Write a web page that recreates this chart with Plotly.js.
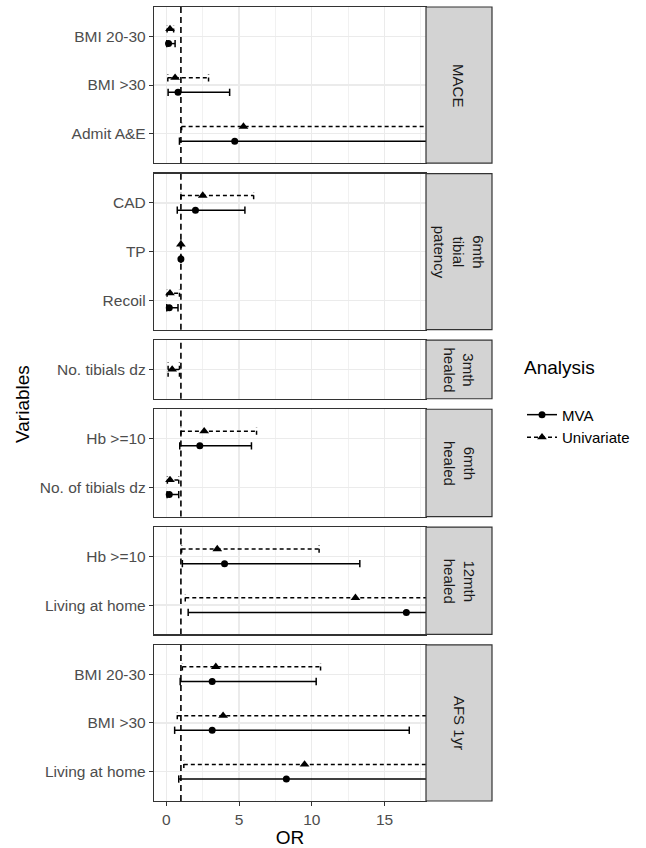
<!DOCTYPE html>
<html><head><meta charset="utf-8">
<script src="https://cdn.plot.ly/plotly-3.0.1.min.js"></script>
<style>html,body{margin:0;padding:0;background:#fff}#chart{width:646px;height:848px}</style>
</head><body><div id="chart"></div>
<script>
// ---- data ----
const facetLabels = ['MACE', '6mth<br>tibial<br>patency', '3mth<br>healed', '6mth<br>healed', '12mth<br>healed', 'AFS 1yr'];
const rowFacet = [0, 0, 0, 1, 1, 1, 2, 3, 3, 4, 4, 5, 5, 5];
const rowVariable = ['BMI 20-30', 'BMI >30', 'Admit A&E', 'CAD', 'TP', 'Recoil', 'No. tibials dz',
  'Hb >=10', 'No. of tibials dz', 'Hb >=10', 'Living at home', 'BMI 20-30', 'BMI >30', 'Living at home'];
const mvaOR    = [0.15, 0.8, 4.7, 2.0, 1.0, 0.2, null, 2.3, 0.2, 4.0, 16.5, 3.15, 3.15, 8.25];
const mvaLower = [0.03, 0.12, 0.9, 0.75, 0.97, 0.03, null, 0.92, 0.05, 1.1, 1.5, 0.95, 0.57, 0.85];
const mvaUpper = [0.6, 4.35, 24, 5.4, 1.03, 0.8, null, 5.85, 0.85, 13.3, 190, 10.3, 16.7, 70];
const uniOR    = [0.25, 0.6, 5.3, 2.5, 1.0, 0.25, 0.4, 2.6, 0.25, 3.5, 13.0, 3.4, 3.9, 9.5];
const uniLower = [0.05, 0.1, 1.05, 1.0, 0.97, 0.05, 0.12, 1.0, 0.07, 1.05, 1.3, 1.1, 0.75, 1.2];
const uniUpper = [0.5, 2.9, 26, 6.0, 1.03, 0.9, 0.9, 6.2, 0.85, 10.5, 125, 10.6, 20.5, 75];
const analysisNames = ['MVA', 'Univariate'];
const refOR = 1;

// ---- styles ----
const FONT = 'Liberation Sans, Arial, sans-serif';
const W = 646, H = 848, ML = 154, MR = 220, MT = 7, MB = 47;
const plotW = W - ML - MR, plotH = H - MT - MB;
const GAP = 10.5;
const XRANGE = [-0.85, 17.85];
const seriesStyle = [
  {or: mvaOR, lo: mvaLower, hi: mvaUpper, symbol: 'circle', size: 7, dash: 'solid', sign: -1},
  {or: uniOR, lo: uniLower, hi: uniUpper, symbol: 'triangle-up', size: 8.5, dash: '4px,3px', sign: 1}
];
const DODGE = 0.15, CAP2 = 0.075, CAP1 = 0.15;

const nF = facetLabels.length;
const facetRows = facetLabels.map((_, f) => rowFacet.map((v, i) => v === f ? i : -1).filter(i => i >= 0));
const units = facetRows.map(r => r.length - 1 + 1.2);
const unitPx = (plotH - GAP * (nF - 1)) / units.reduce((a, b) => a + b, 0);

const traces = [];
const layout = {
  width: W, height: H, margin: {l: ML, r: MR, t: MT, b: MB},
  paper_bgcolor: '#fff', plot_bgcolor: '#fff',
  font: {family: FONT, color: '#000'},
  showlegend: true,
  legend: {x: (522 - ML) / plotW, xanchor: 'left', y: (801 - 349) / plotH, yanchor: 'top',
    title: {text: 'Analysis<br> ', font: {size: 19, color: '#000', family: FONT}},
    font: {size: 15, color: '#000', family: FONT}, bgcolor: 'rgba(0,0,0,0)',
    tracegroupgap: 0, itemwidth: 30, traceorder: 'normal'},
  shapes: [], annotations: []
};

let topPx = 0;
for (let f = 0; f < nF; f++) {
  const rows = facetRows[f];
  const n = rows.length;
  const hPx = units[f] * unitPx;
  const d1 = 1 - topPx / plotH, d0 = 1 - (topPx + hPx) / plotH;
  topPx += hPx + GAP;
  const sfx = f === 0 ? '' : String(f + 1);
  const xa = 'x' + sfx, ya = 'y' + sfx;
  const last = f === nF - 1;

  const xax = {
    domain: [0, 1], anchor: ya, range: XRANGE,
    tickmode: 'linear', tick0: 0, dtick: 5,
    showticklabels: last, ticks: last ? 'outside' : '', ticklen: 4, tickwidth: 1.1, tickcolor: '#333333',
    tickfont: {size: 15.5, color: '#4D4D4D', family: FONT},
    showgrid: true, gridcolor: '#EBEBEB', gridwidth: 1.3,
    minor: {tick0: 0, dtick: 2.5, showgrid: true, gridcolor: '#EBEBEB', gridwidth: 0.7},
    zeroline: false, showline: true, mirror: true, linecolor: '#333333', linewidth: 1.2,
    fixedrange: true
  };
  if (f) xax.matches = 'x';
  if (last) xax.title = {text: 'OR', font: {size: 19, color: '#000', family: FONT}, standoff: 4};
  layout['xaxis' + sfx] = xax;
  layout['yaxis' + sfx] = {
    domain: [d0, d1], anchor: xa, range: [0.4, n + 0.6],
    tickmode: 'array', tickvals: rows.map((_, k) => n - k), ticktext: rows.map(i => rowVariable[i]),
    ticks: 'outside', ticklen: 4, tickwidth: 1.1, tickcolor: '#333333',
    tickfont: {size: 15.5, color: '#4D4D4D', family: FONT},
    showgrid: true, gridcolor: '#EBEBEB', gridwidth: 1.3,
    zeroline: false, showline: true, mirror: true, linecolor: '#333333', linewidth: 1.2,
    fixedrange: true
  };

  // reference line at OR = 1
  layout.shapes.push({type: 'line', xref: xa, yref: 'paper', x0: refOR, x1: refOR, y0: d0, y1: d1,
    layer: 'below', line: {color: '#000', width: 1.6, dash: '6px,4px'}});

  // strip
  layout.shapes.push({type: 'rect', xref: 'paper', yref: 'paper', x0: 1, x1: 1 + 66 / plotW, y0: d0, y1: d1,
    fillcolor: '#D3D3D3', line: {color: '#333333', width: 1.2}, layer: 'above'});
  layout.annotations.push({xref: 'paper', yref: 'paper', x: 1 + 33 / plotW, y: (d0 + d1) / 2,
    text: facetLabels[f], textangle: 90, showarrow: false, xanchor: 'center', yanchor: 'middle',
    font: {size: 15, color: '#1A1A1A', family: FONT}, align: 'center'});

  seriesStyle.forEach((s, si) => {
    const bx = [], by = [], mx = [], my = [];
    rows.forEach((i, k) => {
      if (s.or[i] === null) return;
      const present = seriesStyle.filter(t => t.or[i] !== null).length;
      const yc = (n - k) + (present > 1 ? s.sign * DODGE : 0);
      const cap = present > 1 ? CAP2 : CAP1;
      bx.push(s.lo[i], s.hi[i], null, s.lo[i], s.lo[i], null, s.hi[i], s.hi[i], null);
      by.push(yc, yc, null, yc - cap, yc + cap, null, yc - cap, yc + cap, null);
      mx.push(s.or[i], null);
      my.push(yc, null);
    });
    traces.push({type: 'scatter', mode: 'lines', x: bx, y: by, xaxis: xa, yaxis: ya,
      line: {color: '#000', width: 1.5, dash: s.dash}, showlegend: false, hoverinfo: 'skip',
      legendgroup: analysisNames[si], connectgaps: false});
    traces.push({type: 'scatter', mode: 'lines+markers', x: mx, y: my, xaxis: xa, yaxis: ya,
      name: analysisNames[si], legendgroup: analysisNames[si], showlegend: f === 0,
      connectgaps: false, line: {color: '#000', width: 1.5, dash: s.dash},
      marker: {symbol: s.symbol, size: s.size, color: '#000'}});
  });
}

// shared y title
layout.annotations.push({xref: 'paper', yref: 'paper', x: (22 - ML) / plotW, y: 0.5, text: 'Variables',
  textangle: -90, showarrow: false, xanchor: 'center', yanchor: 'middle',
  font: {size: 19, color: '#000', family: FONT}});

Plotly.newPlot('chart', traces, layout, {staticPlot: true, displayModeBar: false});
</script>
</body></html>
